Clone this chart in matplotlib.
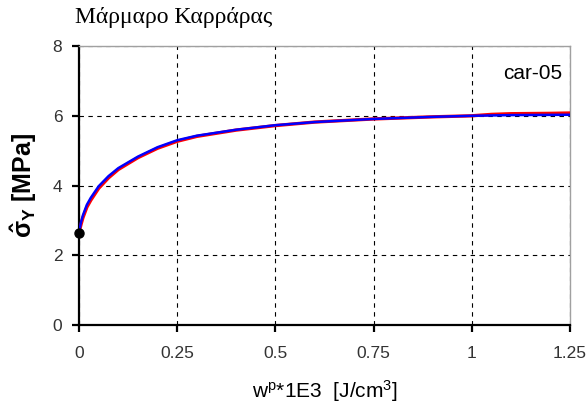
#!/usr/bin/env python3
"""Carrara marble: sigma_Y vs plastic work"""

import matplotlib
matplotlib.use("Agg")
import matplotlib.pyplot as plt

# experimental curve (red) and model fit (blue)
wp_exp = [0, 0.005, 0.01, 0.02, 0.03, 0.05, 0.075, 0.1, 0.15, 0.2, 0.25, 0.3,
          0.4, 0.5, 0.6, 0.75, 0.9, 1.0, 1.05, 1.1, 1.2, 1.25]
sy_exp = [2.65, 2.88, 3.08, 3.38, 3.58, 3.92, 4.22, 4.46, 4.8, 5.07, 5.27, 5.41,
          5.59, 5.72, 5.82, 5.91, 5.97, 6.0, 6.04, 6.06, 6.07, 6.08]
wp_fit = [0, 0.005, 0.01, 0.02, 0.03, 0.05, 0.075, 0.1, 0.15, 0.2, 0.25, 0.3,
          0.4, 0.5, 0.6, 0.75, 0.9, 1.0, 1.1, 1.25]
sy_fit = [2.65, 2.95, 3.15, 3.45, 3.65, 3.98, 4.27, 4.5, 4.83, 5.1, 5.3, 5.43,
          5.6, 5.73, 5.82, 5.91, 5.97, 6.0, 6.02, 6.03]
start_x = [0]
start_y = [2.65]

xticks = [0, 0.25, 0.5, 0.75, 1, 1.25]
xtick_labels = ["0", "0.25", "0.5", "0.75", "1", "1.25"]
yticks = [0, 2, 4, 6, 8]

plt.rcParams["font.family"] = ["Liberation Sans", "DejaVu Sans"]
plt.rcParams["mathtext.fontset"] = "custom"
plt.rcParams["mathtext.rm"] = "Liberation Sans"
plt.rcParams["mathtext.bf"] = "Liberation Sans:bold"
plt.rcParams["mathtext.default"] = "regular"

fig = plt.figure(figsize=(5.87, 4.11), dpi=100)
ax = fig.add_axes([0.1346, 0.209, 0.8364, 0.679])

ax.plot(wp_exp, sy_exp, color="red", linewidth=2.4, zorder=3)
ax.plot(wp_fit, sy_fit, color="blue", linewidth=1.8, zorder=4)
ax.plot(start_x, start_y, "o", color="black", markersize=6.5, zorder=5, clip_on=False)

ax.set_xlim(0, 1.25)
ax.set_ylim(0, 8)
ax.set_xticks(xticks)
ax.set_xticklabels(xtick_labels)
ax.set_yticks(yticks)
ax.grid(True, color="black", linestyle=(0, (4, 4)), linewidth=0.8)

for side in ("top", "right"):
    ax.spines[side].set_color("#a0a0a0")
    ax.spines[side].set_linewidth(1.0)
for side in ("left", "bottom"):
    ax.spines[side].set_color("black")
    ax.spines[side].set_linewidth(1.6)
ax.tick_params(direction="out", length=5, width=1.6, labelsize=12.5,
               labelcolor="#333333")
ax.tick_params(axis="x", pad=10)
ax.tick_params(axis="y", pad=7)

ax.set_xlabel(r"w$^{p}$*1E3  [J/cm$^{3}$]", fontsize=15, labelpad=12)
ax.set_ylabel(r"$\hat{\sigma}_{Y}$ [MPa]", fontsize=18, fontweight="bold",
              labelpad=10)

ax.text(0.985, 0.9, "car-05", transform=ax.transAxes, ha="right", va="center",
        fontsize=15)
fig.text(0.128, 0.958, "Μάρμαρο Καρράρας", fontsize=17,
         family=["Liberation Serif", "DejaVu Serif"], va="center")

fig.savefig("out.png", dpi=100)
plt.close(fig)
